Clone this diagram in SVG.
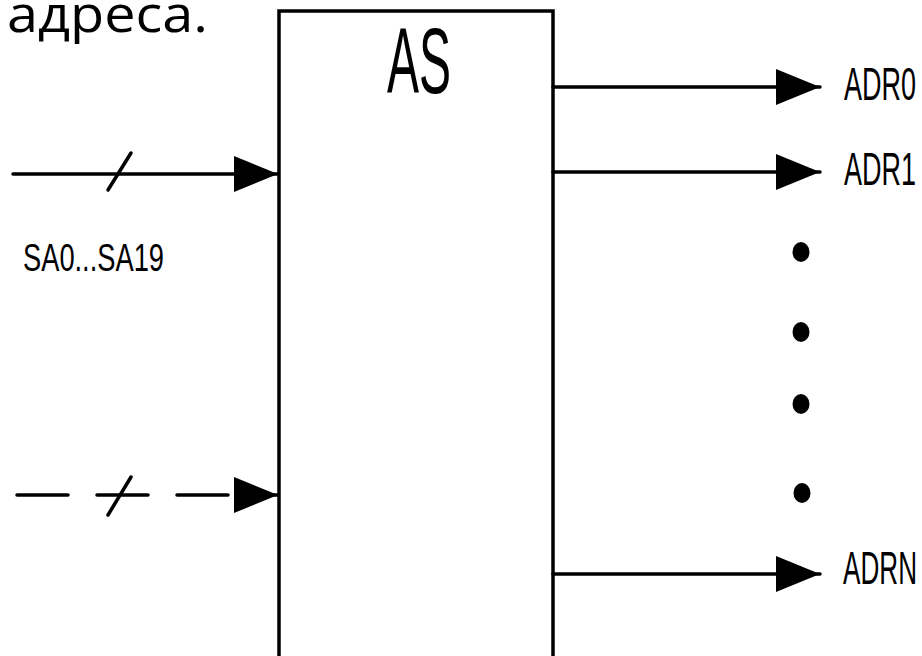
<svg xmlns="http://www.w3.org/2000/svg" width="922" height="656" viewBox="0 0 922 656">
<style>
.ln{stroke:#000;stroke-width:3.5;fill:none;stroke-linecap:round}
.lbl{font-family:"Liberation Sans",Arial,sans-serif;fill:#000}
</style>
<defs>
<marker id="ah" markerUnits="userSpaceOnUse" markerWidth="44" markerHeight="38" refX="44" refY="18" orient="auto" viewBox="0 0 44 36">
<path d="M0,0 L44,18 L0,36 Z" fill="#000"/>
</marker>
</defs>
<rect width="922" height="656" fill="#fff"/>
<text x="7" y="32" font-family="'Open Sans',sans-serif" font-size="52" textLength="201" lengthAdjust="spacingAndGlyphs">адреса.</text>
<g id="as">
<path d="M279,670 V11 H553 V670" stroke="#000" stroke-width="3.5" fill="none"/>
<text class="lbl" x="387" y="93" font-size="92" textLength="64" lengthAdjust="spacingAndGlyphs">AS</text>
</g>
<g id="connectors">
<line class="ln" x1="13" y1="174" x2="278" y2="174" marker-end="url(#ah)"/>
<line class="ln" x1="108" y1="190" x2="131" y2="153"/>
<line class="ln" x1="17" y1="495" x2="278" y2="495" stroke-dasharray="51 29" marker-end="url(#ah)"/>
<line class="ln" x1="108" y1="515" x2="131" y2="477"/>
<line class="ln" x1="553" y1="87" x2="820" y2="87" marker-end="url(#ah)"/>
<line class="ln" x1="553" y1="172" x2="820" y2="172" marker-end="url(#ah)"/>
<line class="ln" x1="553" y1="574" x2="820" y2="574" marker-end="url(#ah)"/>
</g>
<g id="dots" fill="#000">
<ellipse cx="801" cy="252" rx="8.5" ry="10"/>
<ellipse cx="801" cy="332" rx="8.5" ry="10"/>
<ellipse cx="801" cy="404" rx="8.5" ry="10"/>
<ellipse cx="802" cy="493" rx="8.5" ry="10"/>
</g>
<g id="labels">
<text class="lbl" x="23" y="271" font-size="38" textLength="141" lengthAdjust="spacingAndGlyphs">SA0...SA19</text>
<text class="lbl" x="844" y="100" font-size="46" textLength="72" lengthAdjust="spacingAndGlyphs">ADR0</text>
<text class="lbl" x="844" y="185" font-size="46" textLength="72" lengthAdjust="spacingAndGlyphs">ADR1</text>
<text class="lbl" x="843" y="584" font-size="46" textLength="74" lengthAdjust="spacingAndGlyphs">ADRN</text>
</g>
</svg>
